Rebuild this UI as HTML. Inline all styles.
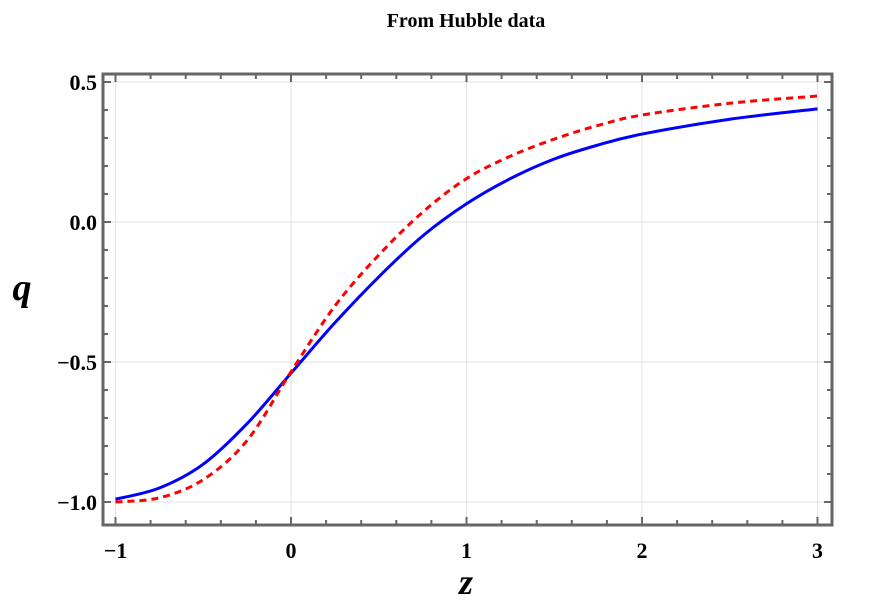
<!DOCTYPE html>
<html><head><meta charset="utf-8"><style>
body{margin:0;background:#fff;}
svg text{font-family:"Liberation Serif",serif;font-weight:bold;}
</style></head><body>
<svg id="chart" width="872" height="602">
<text x="466" y="27" font-size="20" text-anchor="middle">From Hubble data</text>
<g id="grid"></g><g id="ticks"></g><g id="series"></g>
<rect x="103" y="74" width="729" height="451" fill="none" stroke="#666" stroke-width="3"/>
<text x="466" y="594" font-size="36" font-style="italic" text-anchor="middle">z</text>
<text x="22" y="300" font-size="38" font-style="italic" text-anchor="middle">q</text>
</svg>
<script>
const zVals=[-1,-0.75,-0.5,-0.25,0,0.25,0.5,0.75,1,1.25,1.5,1.75,2,2.5,3];
const blueQ=[-0.99,-0.95,-0.865,-0.72,-0.54,-0.36,-0.196,-0.05,0.065,0.155,0.225,0.275,0.314,0.367,0.404];
const redQ=[-1.0,-0.985,-0.92,-0.78,-0.535,-0.30,-0.118,0.035,0.155,0.235,0.296,0.345,0.382,0.424,0.45];
const xTicks=[-1,0,1,2,3];
const yTicks=[-1.0,-0.5,0.0,0.5];
const yTickLabels=["\u22121.0","\u22120.5","0.0","0.5"];
const xTickLabels=["\u22121","0","1","2","3"];
const NS="http://www.w3.org/2000/svg";
const X=v=>291+v*175.5, Y=v=>222-v*280;
const L=103,R=832,T=74,B=525;
function mk(t,a,p){const e=document.createElementNS(NS,t);for(const k in a)e.setAttribute(k,a[k]);p.appendChild(e);return e;}
const grid=document.getElementById('grid'),ticks=document.getElementById('ticks'),ser=document.getElementById('series');
xTicks.forEach((v,i)=>{
 const g=mk('line',{x1:X(v),x2:X(v),y1:T,y2:B,stroke:'#e2e2e2','stroke-width':1},grid);
 
 
 const t=mk('text',{x:X(v),y:558,'font-size':22,'text-anchor':'middle'},ticks);t.textContent=xTickLabels[i];
 
 
});
yTicks.forEach((v,i)=>{
 const g=mk('line',{x1:L,x2:R,y1:Y(v),y2:Y(v),stroke:'#e2e2e2','stroke-width':1},grid);
 
 
 const t=mk('text',{x:97,y:Y(v)+8,'font-size':22,'text-anchor':'end'},ticks);t.textContent=yTickLabels[i];
 
 
});
for(let k=-5;k<=20;k++){const v=k/5;const x=X(v);if(x<L||x>R)continue;const len=k%5==0?8:5;
 mk('line',{x1:x,x2:x,y1:B,y2:B-len,stroke:'#666','stroke-width':2},ticks);
 mk('line',{x1:x,x2:x,y1:T,y2:T+len,stroke:'#666','stroke-width':2},ticks);}
for(let k=-10;k<=5;k++){const v=k/10;const y=Y(v);if(y<T||y>B)continue;const len=k%5==0?8:5;
 mk('line',{x1:L,x2:L+len,y1:y,y2:y,stroke:'#666','stroke-width':2},ticks);
 mk('line',{x1:R,x2:R-len,y1:y,y2:y,stroke:'#666','stroke-width':2},ticks);}
function path(ys){const p=zVals.map((z,i)=>[X(z),Y(ys[i])]);let d='M'+p[0][0]+','+p[0][1];
 for(let i=0;i<p.length-1;i++){const p0=p[Math.max(0,i-1)],p1=p[i],p2=p[i+1],p3=p[Math.min(p.length-1,i+2)];
  d+=` C${p1[0]+(p2[0]-p0[0])/6},${p1[1]+(p2[1]-p0[1])/6} ${p2[0]-(p3[0]-p1[0])/6},${p2[1]-(p3[1]-p1[1])/6} ${p2[0]},${p2[1]}`;}return d;}
const b=mk('path',{d:path(blueQ),fill:'none',stroke:'#0000ff','stroke-width':3},ser);


const r=mk('path',{d:path(redQ),fill:'none',stroke:'#ff0000','stroke-width':3,'stroke-dasharray':'7,5'},ser);


</script>
</body></html>
